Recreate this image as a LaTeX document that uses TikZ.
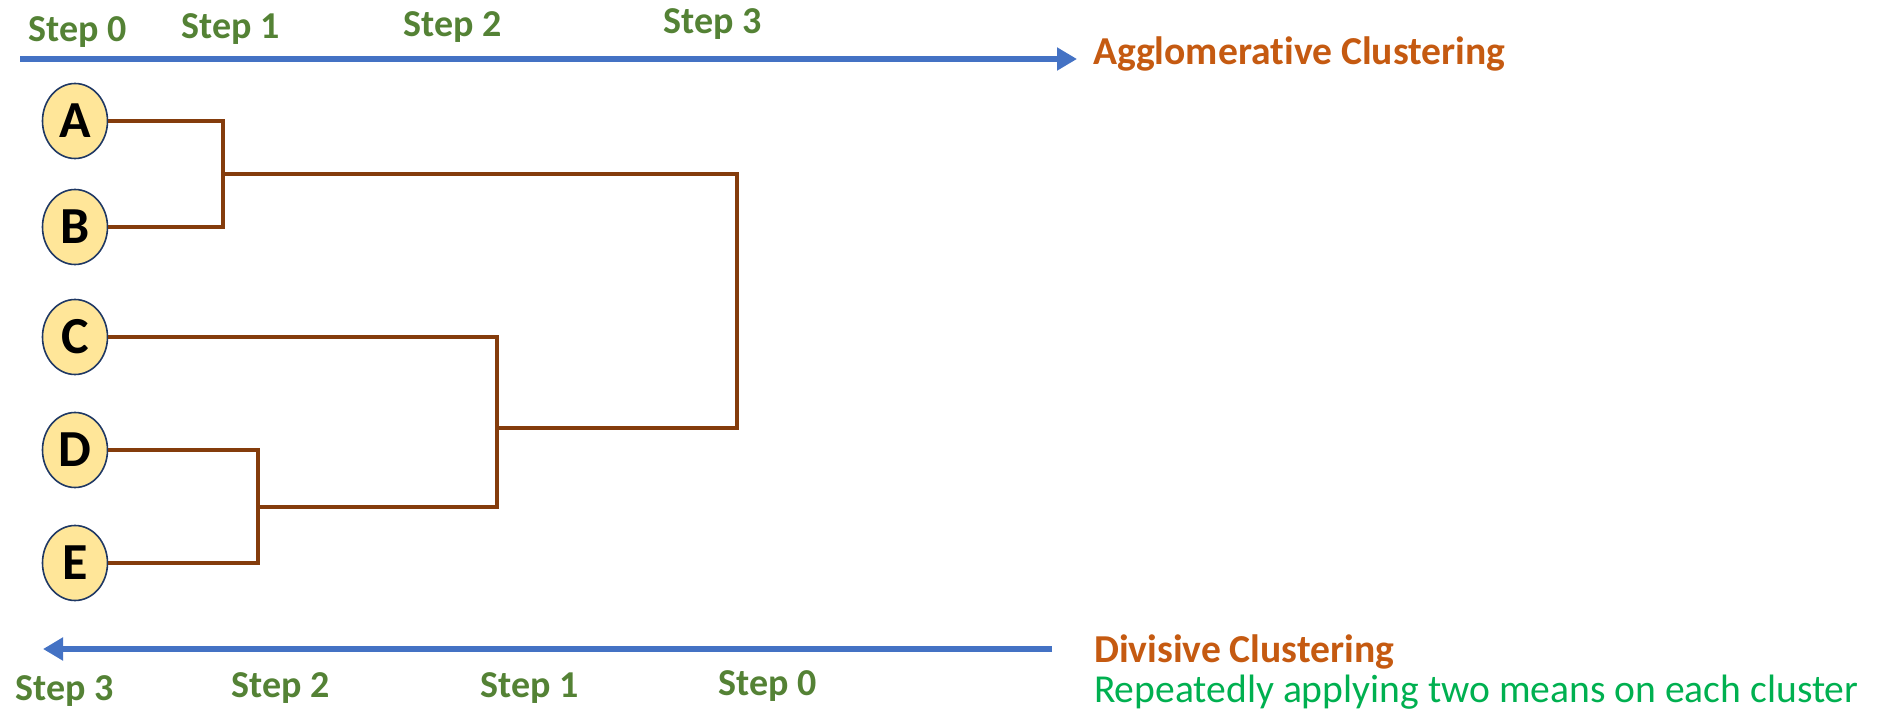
\documentclass[tikz,border=0pt]{standalone}
\usepackage{fontspec}
\setmainfont{Carlito}[Ligatures=CommonOff]
\usetikzlibrary{shapes.geometric,arrows.meta}
\definecolor{leaffill}{HTML}{FFE699}
\definecolor{leafline}{HTML}{1F3864}
\definecolor{linkbrown}{HTML}{843C0C}
\definecolor{flowblue}{HTML}{4472C4}
\definecolor{stepgreen}{HTML}{548235}
\definecolor{methodorange}{HTML}{C55A11}
\definecolor{notegreen}{HTML}{00B050}
\begin{document}
\begin{tikzpicture}[x=0.5pt,y=-0.5pt,
  leaf/.style={ellipse, draw=leafline, line width=0.8pt, fill=leaffill, minimum width=32.5pt, minimum height=37.5pt, inner sep=0pt, font=\fontsize{26}{30}\selectfont\bfseries},
  link/.style={draw=linkbrown, line width=2.4pt},
  flow/.style={draw=flowblue, line width=3pt, -{Triangle[length=10pt,width=11pt]}},
  steplbl/.style={anchor=base, text=stepgreen, font=\fontsize{19}{23}\selectfont\bfseries},
  methodlbl/.style={anchor=base west, text=methodorange, font=\fontsize{19.8}{24}\selectfont\bfseries}]
\useasboundingbox (0,0) rectangle (1881,717);
% leaves
\node[leaf] (A) at (75,121){A};
\node[leaf] (B) at (75,227){B};
\node[leaf] (C) at (75,337){C};
\node[leaf] (D) at (75,450){D};
\node[leaf] (E) at (75,563){E};
% merge points
\coordinate (ab) at (223,174);
\coordinate (de) at (258,507);
\coordinate (cde) at (497,428);
\coordinate (abcde) at (737,301);
\draw[link](A) -| (ab);
\draw[link](B) -| (ab);
\draw[link](D) -| (de);
\draw[link](E) -| (de);
\draw[link](C) -| (cde);
\draw[link](de) -| (cde);
\draw[link](ab) -| (abcde);
\draw[link](cde) -| (abcde);
% agglomerative direction
\coordinate (agg0) at (20,59);
\coordinate (agg1) at (1077,59);
\draw[flow](agg0) -- (agg1);
\node[methodlbl] (agg) at (1086,65){Agglomerative Clustering};
\node[steplbl] (up0) at (78,42){Step 0};
\node[steplbl] (up1) at (231,39){Step 1};
\node[steplbl] (up2) at (453,37){Step 2};
\node[steplbl] (up3) at (713,34){Step 3};
% divisive direction
\coordinate (div0) at (1052,649);
\coordinate (div1) at (43,649);
\draw[flow](div0) -- (div1);
\node[methodlbl] (div) at (1087,662){Divisive Clustering};
\node[anchor=base west, text=notegreen, font=\fontsize{19.8}{24}\selectfont] (note) at (1087,702){Repeatedly applying two means on each cluster};
\node[steplbl] (dn3) at (65,700){Step 3};
\node[steplbl] (dn2) at (281,697){Step 2};
\node[steplbl] (dn1) at (530,697){Step 1};
\node[steplbl] (dn0) at (768,695){Step 0};
\end{tikzpicture}
\end{document}
